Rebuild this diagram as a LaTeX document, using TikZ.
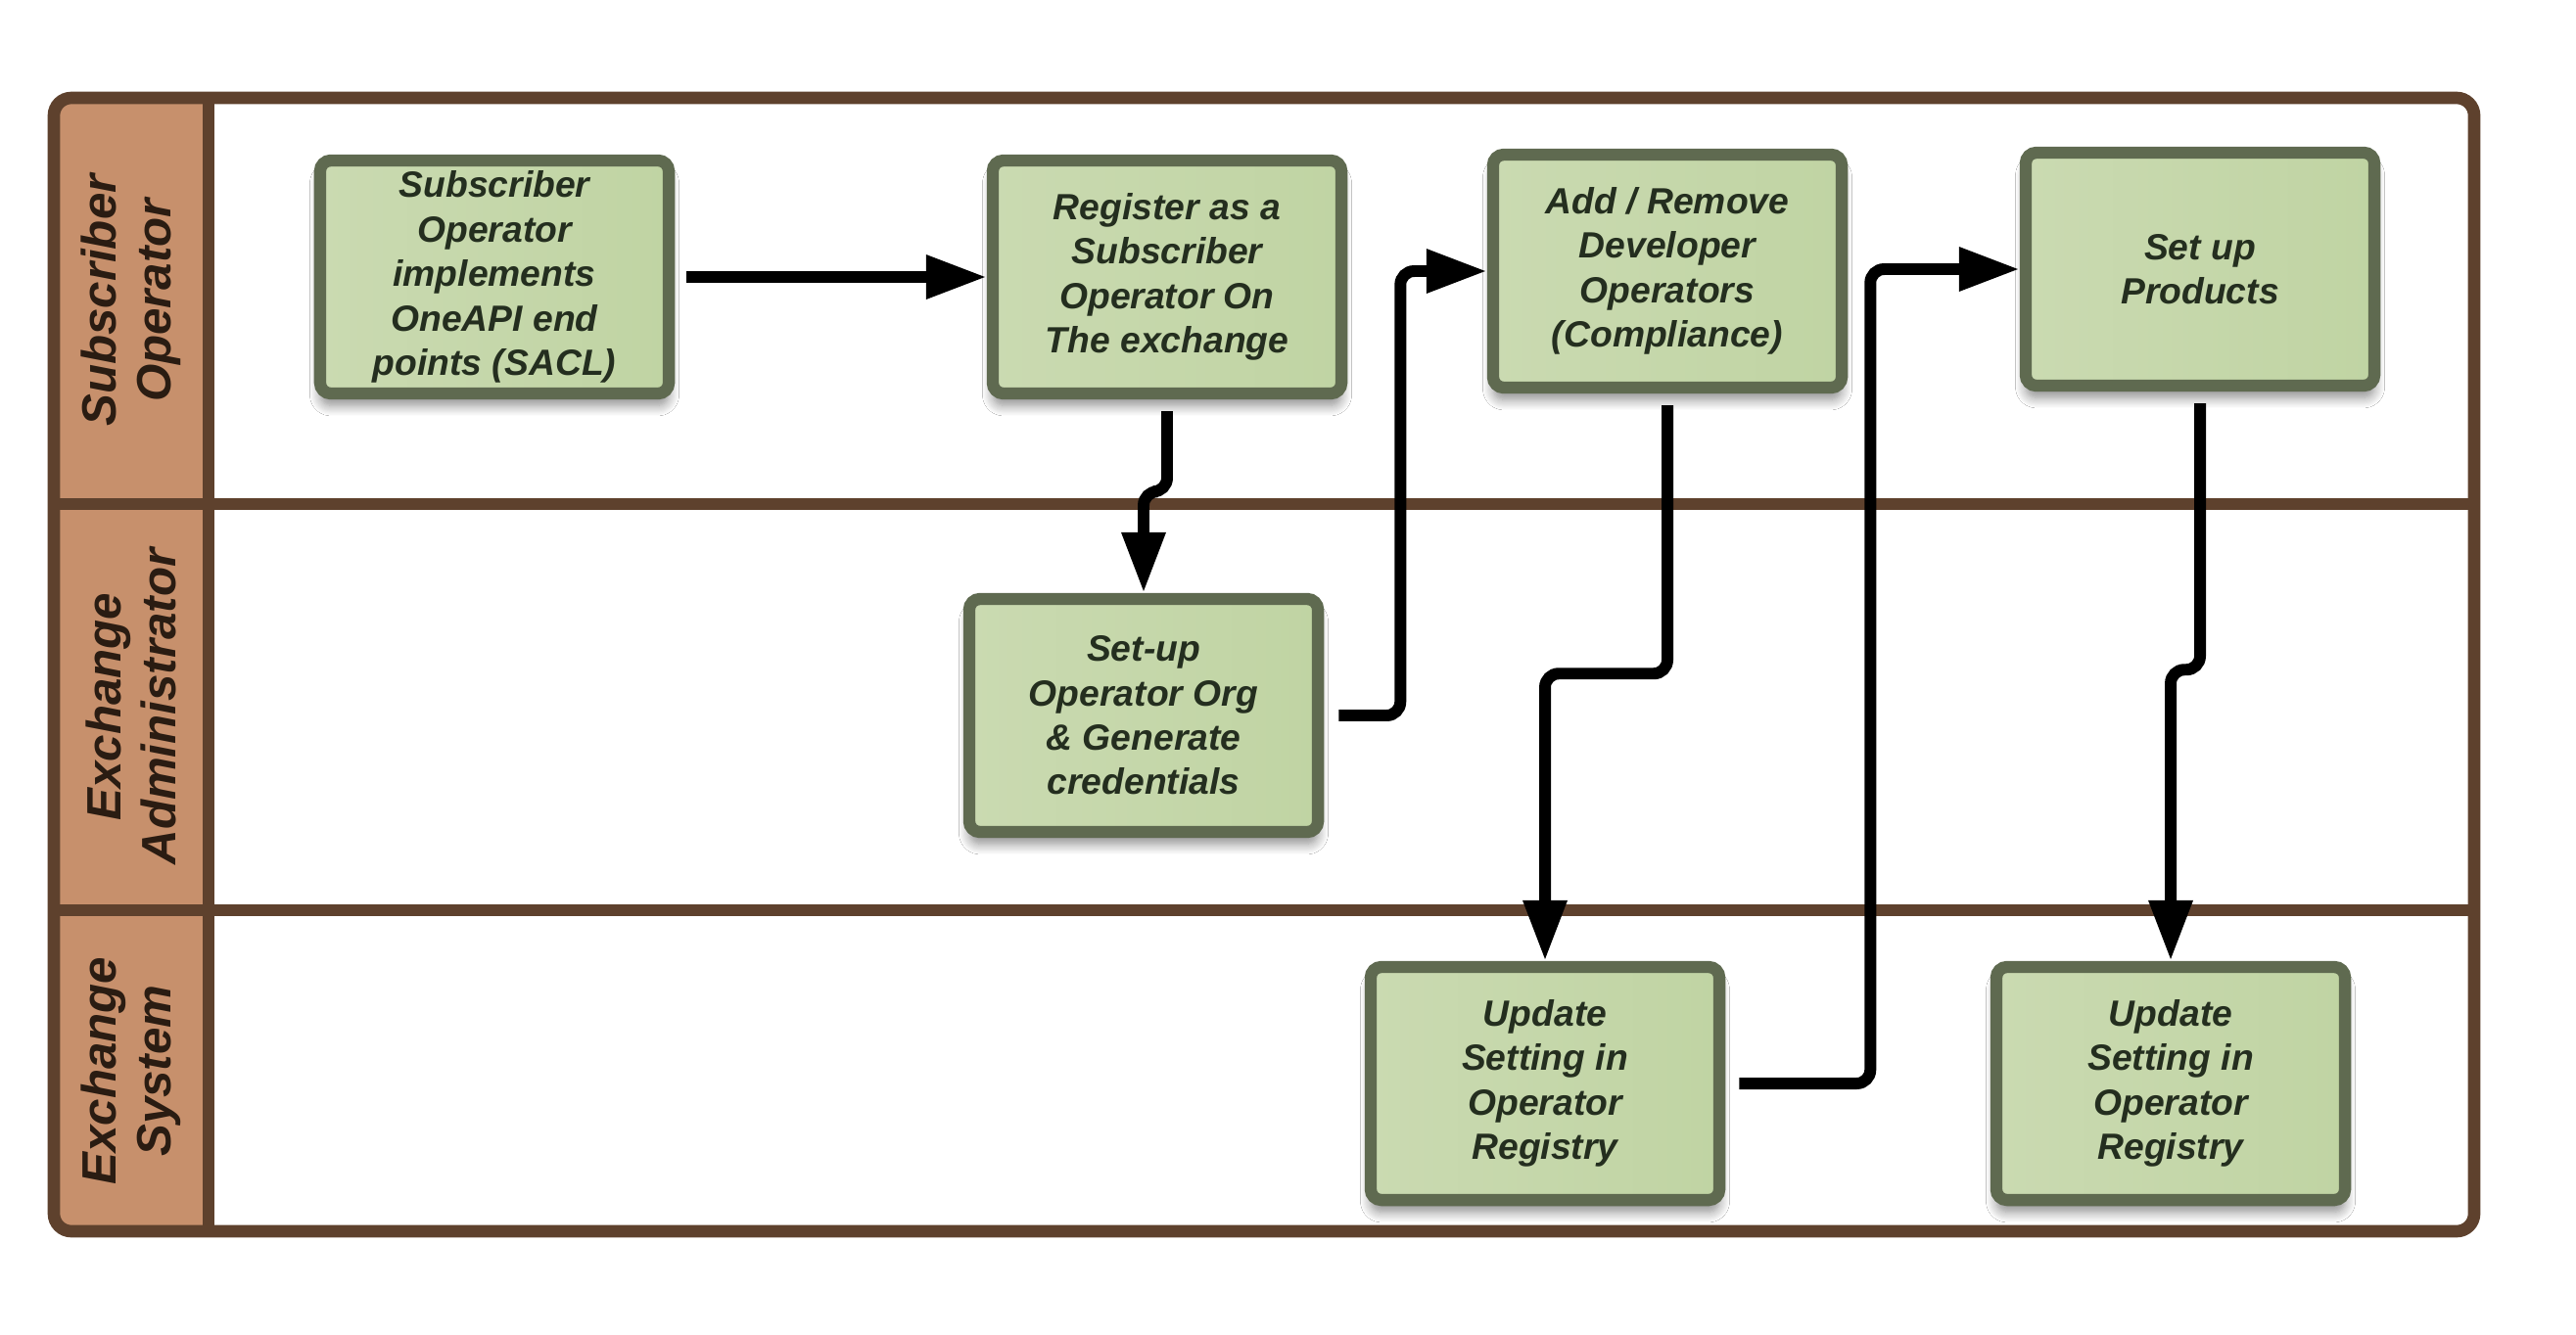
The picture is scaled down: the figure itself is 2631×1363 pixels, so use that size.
\documentclass[tikz,border=0pt]{standalone}
\usepackage{fontspec}
\setmainfont{Liberation Sans}
\usetikzlibrary{arrows.meta,shadows.blur}

\definecolor{framebrown}{HTML}{5E412D}
\definecolor{headtan}{HTML}{C7906C}
\definecolor{boxedge}{HTML}{5F6A50}
\definecolor{boxlight}{HTML}{CADAB1}
\definecolor{boxdark}{HTML}{C0D4A3}
\definecolor{boxtext}{HTML}{242E1F}
\definecolor{headtext}{HTML}{2A1C12}

\begin{document}
\begin{tikzpicture}[x=0.01cm,y=-0.01cm,
  task/.style={draw=boxedge, line width=3.5pt, rounded corners=0.11cm,
    left color=boxlight, right color=boxdark,
    minimum width=3.56cm, minimum height=2.38cm, inner sep=0pt,
    align=center, text=boxtext,
    font=\fontsize{10.6}{12.9}\selectfont\bfseries\itshape,
    blur shadow={shadow xshift=0pt, shadow yshift=-3.5pt, shadow opacity=45,
      shadow blur radius=3pt, shadow blur steps=10}},
  flow/.style={draw=black, line width=3.4pt, rounded corners=0.14cm,
    -{Triangle[length=17.6pt,width=12pt]}},
  lanelabel/.style={rotate=90, align=center, text=headtext,
    font=\fontsize{14}{16}\selectfont\bfseries\itshape},
  rule/.style={draw=framebrown, line width=3.6pt}
]
\useasboundingbox (0,0) rectangle (2631,1363);

% swimlane frame
\fill[white, rounded corners=0.18cm] (55,100) rectangle (2527,1258);
\fill[headtan, rounded corners=0.18cm] (55,100) rectangle (213,1258);
\draw[rule] (55,515) -- (2527,515);
\draw[rule] (55,930) -- (2527,930);
\draw[rule] (213,100) -- (213,1258);
\draw[rule, rounded corners=0.18cm] (55,100) rectangle (2527,1258);

% lane titles
\node[lanelabel] (lane1) at (134,307) {Subscriber\\Operator};
\node[lanelabel] (lane2) at (134,722) {Exchange\\Administrator};
\node[lanelabel] (lane3) at (134,1094) {Exchange\\System};

% process steps
\node[task] (b1) at (505,283) {Subscriber\\Operator\\implements\\OneAPI end\\points (SACL)};
\node[task] (b2) at (1192,283) {Register as a\\Subscriber\\Operator On\\The exchange};
\node[task] (b3) at (1703,277) {Add / Remove\\Developer\\Operators\\(Compliance)};
\node[task] (b4) at (2247,275) {Set up\\Products};
\node[task] (b5) at (1168,731) {Set-up\\Operator Org\\\& Generate\\credentials};
\node[task] (b6) at (1578,1107) {Update\\Setting in\\Operator\\Registry};
\node[task] (b7) at (2217,1107) {Update\\Setting in\\Operator\\Registry};

% flow connectors
\draw[flow] ([xshift=0.12cm]b1.east) -- (b2.west);
\draw[flow] ([yshift=-0.12cm]b2.south) -- ++(0,82) -| (b5.north);
\draw[flow] ([xshift=0.15cm]b5.east) -- ++(63,0) |- (b3.west);
\draw[flow] ([yshift=-0.12cm]b3.south) -- ++(0,274) -| (b6.north);
\draw[flow] ([xshift=0.14cm]b6.east) -- ++(134,0) |- (b4.west);
\draw[flow] ([yshift=-0.12cm]b4.south) -- ++(0,272) -| (b7.north);
\end{tikzpicture}
\end{document}
